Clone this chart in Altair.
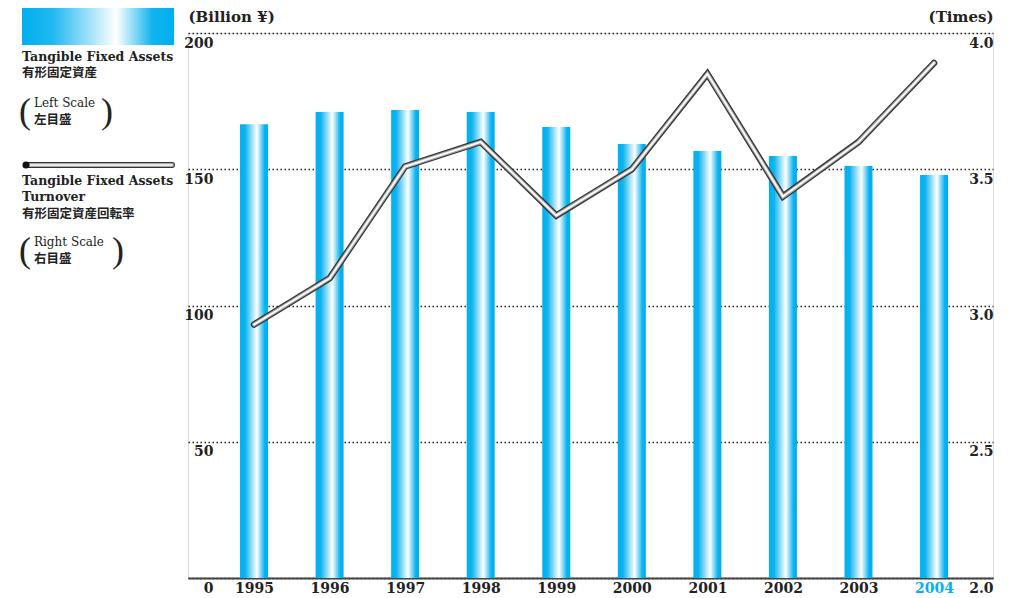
import altair as alt
import pandas as pd

years = [1995, 1996, 1997, 1998, 1999, 2000, 2001, 2002, 2003, 2004]
assets = [166.5, 171.0, 171.7, 171.0, 165.5, 159.3, 156.7, 154.9, 151.2, 147.9]
turnover = [2.93, 3.10, 3.51, 3.60, 3.33, 3.50, 3.85, 3.40, 3.60, 3.89]

df = pd.DataFrame({"year": years, "assets": assets, "turnover": turnover})
one = pd.DataFrame({"_": [0]})

SERIF = "DejaVu Serif"
THIN = "Liberation Serif"
CJK = "Noto Sans CJK JP"
BLUE = "#00b0ef"
INK = "#222222"

bar_grad = alt.Gradient(
    gradient="linear", x1=0, x2=1, y1=0, y2=0,
    stops=[
        alt.GradientStop(offset=0, color=BLUE),
        alt.GradientStop(offset=0.18, color="#0cb3ef"),
        alt.GradientStop(offset=0.6, color="#ffffff"),
        alt.GradientStop(offset=0.88, color="#08b1ef"),
        alt.GradientStop(offset=1, color=BLUE),
    ],
)
legend_grad = alt.Gradient(
    gradient="linear", x1=0, x2=1, y1=0, y2=0,
    stops=[
        alt.GradientStop(offset=0, color=BLUE),
        alt.GradientStop(offset=0.2, color="#20b8f0"),
        alt.GradientStop(offset=0.62, color="#ffffff"),
        alt.GradientStop(offset=0.86, color="#10b3ef"),
        alt.GradientStop(offset=1, color=BLUE),
    ],
)

xscale = alt.Scale(domain=[1994.126, 2004.78], nice=False, zero=False, padding=0)
xaxis = alt.Axis(
    values=years, format="d", title=None, grid=False, ticks=False,
    domainColor="#444444", domainWidth=2,
    labelFont=SERIF, labelFontWeight="bold", labelFontSize=14,
    labelColor={"condition": {"test": "datum.value == 2004", "value": BLUE}, "value": INK},
    labelPadding=3, labelBaseline="top", labelFlush=False,
)

yl_axis = alt.Axis(
    values=[0, 50, 100, 150, 200], title="(Billion ¥)",
    titleAngle=0, titleAlign="left", titleBaseline="alphabetic",
    titleX=0, titleY=-12, titleFont=SERIF, titleFontSize=15,
    titleFontWeight="bold", titleColor=INK,
    domain=False, ticks=False,
    grid=True, gridDash=[1.5, 2.5], gridColor="#222222", gridWidth=1.4,
    labelFont=SERIF, labelFontWeight="bold", labelFontSize=14,
    labelColor=INK, labelAlign="right", labelBaseline="top",
    labelPadding=-25, labelOffset=3,
)

yr_axis = alt.Axis(
    orient="right", values=[2.0, 2.5, 3.0, 3.5, 4.0], format=".1f",
    title="(Times)", titleAngle=0, titleAlign="right", titleBaseline="alphabetic",
    titleX=0, titleY=-12, titleFont=SERIF, titleFontSize=15,
    titleFontWeight="bold", titleColor=INK,
    domain=False, ticks=False, grid=False,
    labelFont=SERIF, labelFontWeight="bold", labelFontSize=14,
    labelColor=INK, labelAlign="right", labelBaseline="top",
    labelPadding=0, labelOffset=3,
)

bars = alt.Chart(df).mark_bar(size=28, color=bar_grad).encode(
    x=alt.X("year:Q", scale=xscale, axis=xaxis),
    y=alt.Y("assets:Q", scale=alt.Scale(domain=[0, 200], nice=False), axis=yl_axis),
)

yr = alt.Scale(domain=[2, 4], nice=False, zero=False)


def tube(color, width):
    return alt.Chart(df).mark_line(color=color, strokeWidth=width, strokeCap="round", strokeJoin="miter").encode(
        x=alt.X("year:Q", scale=xscale, axis=xaxis),
        y=alt.Y("turnover:Q", scale=yr, axis=yr_axis),
    )


lines = alt.layer(tube("#333333", 6.5), tube("#a8a8a8", 4), tube("#ffffff", 1.8))


def txt(s, x, y, size=13, font=SERIF, weight="bold", align="left"):
    return alt.Chart(one).mark_text(
        text=s, font=font, fontSize=size, fontWeight=weight, color=INK,
        align=align, baseline="middle",
    ).encode(x=alt.value(x), y=alt.value(y))


legend_layers = [
    alt.Chart(one).mark_rect(color=legend_grad).encode(
        x=alt.value(-166), x2=alt.value(-14), y=alt.value(-27), y2=alt.value(12)),
    txt("Tangible Fixed Assets", -166, 24, 12.5),
    txt("有形固定資産", -166, 40, 12.5, CJK),
    txt("(", -169, 79, 36, THIN, "normal"),
    txt("Left Scale", -154, 70, 12, SERIF, "normal"),
    txt("左目盛", -154, 87, 12.5, CJK),
    txt(")", -87, 79, 36, THIN, "normal"),
    alt.Chart(one).mark_rule(color="#333333", strokeWidth=6, strokeCap="round").encode(
        x=alt.value(-162), x2=alt.value(-16), y=alt.value(132)),
    alt.Chart(one).mark_rule(color="#a8a8a8", strokeWidth=4, strokeCap="round").encode(
        x=alt.value(-160), x2=alt.value(-16), y=alt.value(132)),
    alt.Chart(one).mark_rule(color="#ffffff", strokeWidth=1.6, strokeCap="round").encode(
        x=alt.value(-158), x2=alt.value(-16), y=alt.value(132)),
    alt.Chart(one).mark_point(filled=True, color="#111111", size=50, opacity=1).encode(
        x=alt.value(-162), y=alt.value(132)),
    txt("Tangible Fixed Assets", -166, 148, 12.5),
    txt("Turnover", -166, 164, 12.5),
    txt("有形固定資産回転率", -166, 181, 12.5, CJK),
    txt("(", -169, 218, 36, THIN, "normal"),
    txt("Right Scale", -154, 209, 12, SERIF, "normal"),
    txt("右目盛", -154, 226, 12.5, CJK),
    txt(")", -76, 218, 36, THIN, "normal"),
]

chart = alt.layer(bars, lines, *legend_layers).resolve_scale(y="independent").properties(
    width=805, height=545,
    padding={"left": 180, "top": 25, "right": 11, "bottom": 16},
    autosize=alt.AutoSizeParams(type="none"),
).configure_view(stroke=None).configure(background="white")

chart.save("out.html", embed_options={"renderer": "svg", "actions": False})
